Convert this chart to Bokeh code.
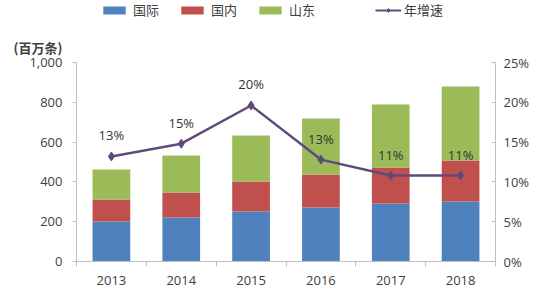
from bokeh.plotting import figure
from bokeh.layouts import column
from bokeh.models import (ColumnDataSource, Range1d, LinearAxis, FixedTicker,
                          NumeralTickFormatter, PrintfTickFormatter, Legend, LegendItem)
from bokeh.core.properties import value
from bokeh.embed import file_html
from bokeh.resources import INLINE

years = [2013, 2014, 2015, 2016, 2017, 2018]
intl = [201, 221, 251, 271, 291, 301]
domestic = [111, 126, 151, 166, 181, 206]
shandong = [150, 186, 231, 281, 317, 372]
growth = [13.2, 14.8, 19.6, 12.8, 10.8, 10.8]
growth_labels = ["13%", "15%", "20%", "13%", "11%", "11%"]
series = ["intl", "domestic", "shandong"]
series_names = ["国际", "国内", "山东"]
line_name = "年增速"
unit_label = "(百万条)"
colors = ["#4F81BD", "#C0504D", "#9BBB59"]
LINE_COLOR = "#604A7B"

src = ColumnDataSource(dict(x=years, intl=intl, domestic=domestic, shandong=shandong,
                            g=growth, gl=growth_labels))

FONT = "Open Sans"
CJK = "Noto Sans CJK SC"
TXT = "#404040"
NAN = float("nan")

# ---------- header figure (legend only) ----------
TOP_H = 22
hdr = figure(width=550, height=TOP_H, output_backend="svg", toolbar_location=None,
             x_range=Range1d(0, 1), y_range=Range1d(0, 1),
             min_border_left=76, min_border_right=55, min_border_top=0, min_border_bottom=0)
hdr.axis.visible = False
hdr.grid.visible = False
hdr.outline_line_color = None

empty = ColumnDataSource(dict(x=[NAN], top=[NAN], y=[NAN]))
hbars = [hdr.vbar(x="x", top="top", width=0.1, fill_color=c, line_color=None, source=empty)
         for c in colors]
hln = hdr.line(x="x", y="y", source=empty, line_color=LINE_COLOR, line_width=2)
hmk = hdr.scatter(x="x", y="y", source=empty, marker="diamond", size=6,
                  fill_color=LINE_COLOR, line_color=LINE_COLOR)

leg1 = Legend(items=[LegendItem(label=n, renderers=[r]) for n, r in zip(series_names, hbars)],
              orientation="horizontal", location=(24, 3), padding=0, margin=0,
              spacing=19, label_standoff=5, glyph_width=28, glyph_height=10, label_height=13,
              label_text_font=CJK, label_text_font_size="13px", label_text_color=TXT,
              border_line_color=None, background_fill_alpha=0)
leg2 = Legend(items=[LegendItem(label=line_name, renderers=[hln, hmk])],
              orientation="horizontal", location=(299, 3), padding=0, margin=0,
              label_standoff=3, glyph_width=26, glyph_height=10, label_height=13,
              label_text_font=CJK, label_text_font_size="13px", label_text_color=TXT,
              border_line_color=None, background_fill_alpha=0)
hdr.add_layout(leg1, "center")
hdr.add_layout(leg2, "center")

# ---------- main chart ----------
p = figure(width=550, height=300 - TOP_H, output_backend="svg", toolbar_location=None,
           x_range=Range1d(2012.5, 2018.5), y_range=Range1d(0, 1000),
           min_border_left=76, min_border_right=55, min_border_top=62 - TOP_H,
           min_border_bottom=39, title=unit_label)
p.outline_line_color = None
p.xgrid.visible = False
p.ygrid.visible = False
p.title.align = "left"
p.title.vertical_align = "top"
p.title.offset = -63
p.title.text_font = CJK
p.title.text_font_size = "13px"
p.title.text_color = TXT
p.title.text_font_style = "bold"
p.title.standoff = 8

bars = p.vbar_stack(series, x="x", width=0.54, color=colors, source=src, line_color=None)

p.extra_y_ranges = {"pct": Range1d(0, 25)}
p.line("x", "g", source=src, y_range_name="pct", line_color=LINE_COLOR, line_width=2.5)
p.scatter("x", "g", source=src, y_range_name="pct", marker="diamond", size=9,
          fill_color=LINE_COLOR, line_color=LINE_COLOR)
p.text("x", "g", text="gl", source=src, y_range_name="pct", y_offset=-12,
       text_align="center", text_baseline="bottom", text_font=value(FONT),
       text_font_size="13px", text_color="#333333")

xa = p.xaxis[0]
xa.ticker = FixedTicker(ticks=years, minor_ticks=[2012.5 + i for i in range(7)])
xa.major_tick_line_color = None
xa.minor_tick_out = 5
xa.minor_tick_in = 0
xa.minor_tick_line_color = "#bfbfbf"
xa.axis_line_color = "#bfbfbf"
xa.major_label_text_font = FONT
xa.major_label_text_font_size = "13px"
xa.major_label_text_color = TXT
xa.major_label_standoff = 8

ya = p.yaxis[0]
ya.ticker = FixedTicker(ticks=[0, 200, 400, 600, 800, 1000])
ya.formatter = NumeralTickFormatter(format="0,0")
ya.axis_line_color = "#bfbfbf"
ya.major_tick_line_color = "#bfbfbf"
ya.major_tick_out = 4
ya.major_tick_in = 0
ya.minor_tick_line_color = None
ya.major_label_text_font = FONT
ya.major_label_text_font_size = "13px"
ya.major_label_text_color = TXT
ya.major_label_standoff = 10

ra = LinearAxis(y_range_name="pct", ticker=FixedTicker(ticks=[0, 5, 10, 15, 20, 25]),
                formatter=PrintfTickFormatter(format="%d%%"))
ra.axis_line_color = "#bfbfbf"
ra.major_tick_line_color = "#bfbfbf"
ra.major_tick_out = 0
ra.major_tick_in = 4
ra.minor_tick_line_color = None
ra.major_label_text_font = FONT
ra.major_label_text_font_size = "13px"
ra.major_label_text_color = TXT
ra.major_label_standoff = 8
p.add_layout(ra, "right")

layout = column(hdr, p, spacing=0)
open("out.html", "w").write(file_html(layout, INLINE))
